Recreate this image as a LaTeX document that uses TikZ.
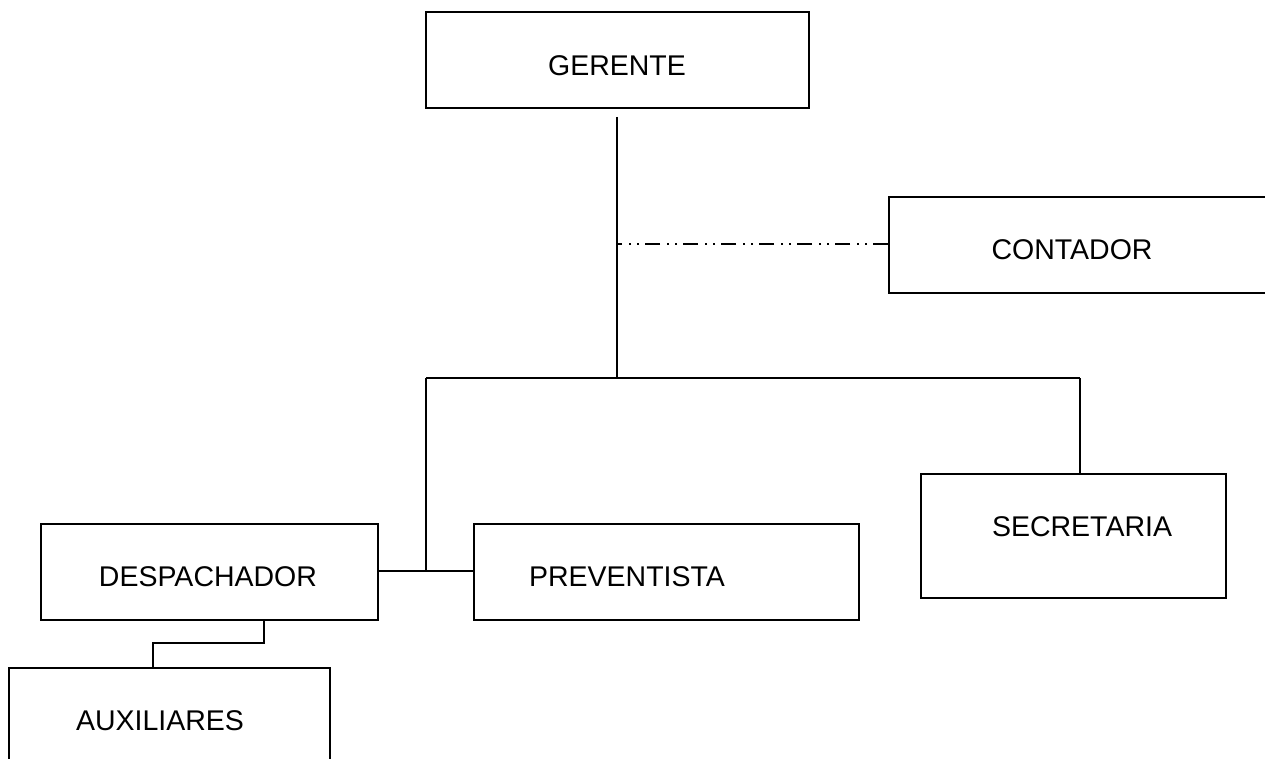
\documentclass[tikz,border=0pt]{standalone}
\usepackage{fontspec}
\setmainfont{Liberation Sans}
\begin{document}
\begin{tikzpicture}[x=1pt,y=-1pt,
  box/.style={draw,line width=1.7pt,inner sep=0pt,anchor=north west},
  lbl/.style={font=\fontsize{28.5}{30}\selectfont,inner sep=0pt},
  conn/.style={line width=1.7pt},
  dashdot/.style={line width=1.7pt,dash pattern=on 15pt off 6pt on 2pt off 6pt on 2pt off 7pt}]
\clip (0,0) rectangle (1265,759);
\fill[white] (0,0) rectangle (1265,759);
% boxes
\node[box,minimum width=383pt,minimum height=96pt] (ger) at (425,11) {};
\node[box,minimum width=400pt,minimum height=96pt] (con) at (888,196) {};
\node[box,minimum width=305pt,minimum height=124pt] (sec) at (920,473) {};
\node[box,minimum width=337pt,minimum height=96pt] (des) at (40,523) {};
\node[box,minimum width=385pt,minimum height=96pt] (pre) at (473,523) {};
\node[box,minimum width=321pt,minimum height=120pt] (aux) at (8,667) {};
% labels
\node[lbl] (tger) at (617,66) {GERENTE};
\node[lbl] (tcon) at (1072,250) {CONTADOR};
\node[lbl] (tsec) at (1082,527) {SECRETARIA};
\node[lbl] (tdes) at (208,577) {DESPACHADOR};
\node[lbl] (tpre) at (627,577) {PREVENTISTA};
\node[lbl] (taux) at (160,721) {AUXILIARES};
% junctions
\coordinate (gtop) at (617,117);
\coordinate (j1) at (617,378);
\coordinate (jc) at (617,244);
\coordinate (jl) at (426,378);
\coordinate (jdp) at (426,571);
\coordinate (jr) at (1080,378);
\coordinate (d1) at (264,643);
% connectors
\draw[conn] (gtop) -- (j1);
\draw[conn] (jl) -- (jr);
\draw[conn] (jl) -- (jdp);
\draw[conn] (jr) -- (jr |- sec.north);
\draw[conn] (des.east |- jdp) -- (pre.west |- jdp);
\draw[conn] (des.south -| d1) -- (d1) -- (d1 -| 153,0) -- (aux.north -| 153,0);
\draw[dashdot] (con.west |- jc) -- (jc);
\end{tikzpicture}
\end{document}
